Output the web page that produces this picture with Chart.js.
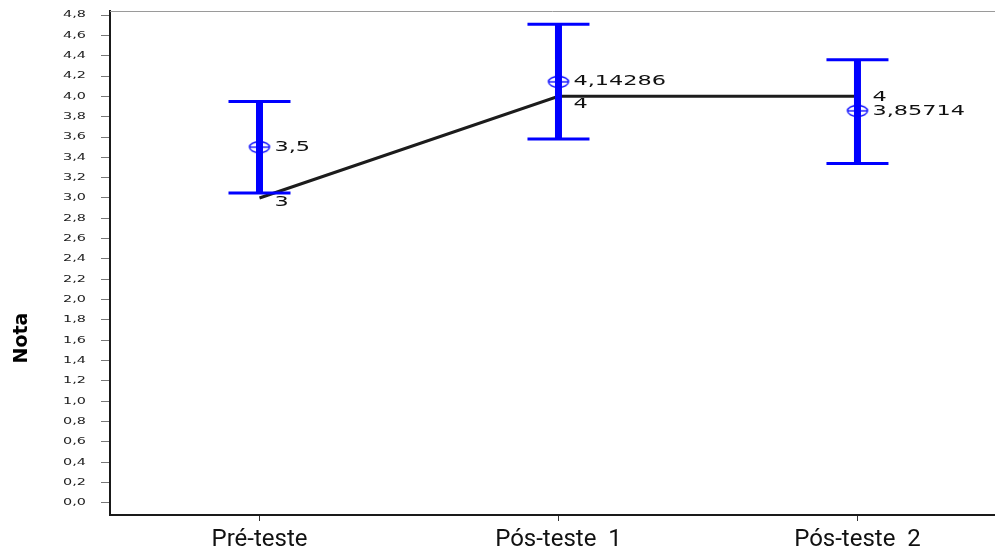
<!DOCTYPE html>
<html>
<head>
<meta charset="utf-8">
<script src="https://cdn.jsdelivr.net/npm/chart.js@4/dist/chart.umd.min.js"></script>
<style>
html, body { margin: 0; padding: 0; background: #fff; }
</style>
</head>
<body>
<canvas id="chart" width="995" height="555"></canvas>
<script>
// data
const categories = ['Pré-teste', 'Pós-teste  1', 'Pós-teste  2'];
const positions = [0, 1, 2];
const means = [3.5, 4.14286, 3.85714];
const medians = [3, 4, 4];
const ciLow = [3.05, 3.58, 3.34];
const ciHigh = [3.95, 4.71, 4.36];
const yTicks = [0, 0.2, 0.4, 0.6, 0.8, 1.0, 1.2, 1.4, 1.6, 1.8, 2.0, 2.2, 2.4,
    2.6, 2.8, 3.0, 3.2, 3.4, 3.6, 3.8, 4.0, 4.2, 4.4, 4.6, 4.8];
const yTitle = 'Nota';

const BLUE = '#0000ff';
const STRETCH = 1.6; // the source picture is stretched sideways
const medianDy = [4, 8, 1];

function fmt(v) {
    return String(v).replace('.', ',');
}

// mean marker: flat circle with a bar through it
function makeMeanMarker() {
    const c = document.createElement('canvas');
    c.width = 24;
    c.height = 14;
    const g = c.getContext('2d');
    g.strokeStyle = BLUE;
    g.lineWidth = 1.3;
    g.beginPath();
    g.ellipse(12, 7, 10, 5.5, 0, 0, Math.PI * 2);
    g.stroke();
    g.beginPath();
    g.moveTo(2, 7);
    g.lineTo(22, 7);
    g.stroke();
    return c;
}

function wideText(ctx, text, x, y, align) {
    ctx.save();
    ctx.translate(x, y);
    ctx.scale(STRETCH, 1);
    ctx.textAlign = align;
    ctx.fillText(text, 0, 0);
    ctx.restore();
}

// fixed axis sizes, no extra label padding
function fixSize(w, h) {
    return s => {
        if (w) s.width = w;
        if (h) s.height = h;
        s.paddingTop = s.paddingBottom = s.paddingLeft = s.paddingRight = 0;
    };
}

const textPlugin = {
    id: 'texts',
    afterDatasetsDraw(chart) {
        const { ctx, chartArea, scales } = chart;
        const xs = scales.x, ys = scales.y;
        ctx.save();

        // top frame line
        ctx.strokeStyle = '#9a9a9a';
        ctx.lineWidth = 1;
        ctx.beginPath();
        ctx.moveTo(chartArea.left, chartArea.top + 0.5);
        ctx.lineTo(chartArea.right, chartArea.top + 0.5);
        ctx.stroke();

        // y tick labels
        ctx.fillStyle = '#222';
        ctx.font = '9px "DejaVu Sans"';
        ctx.textBaseline = 'middle';
        yTicks.forEach(v => {
            wideText(ctx, v.toFixed(1).replace('.', ','), chartArea.left - 24, ys.getPixelForValue(v), 'right');
        });

        // value labels
        ctx.fillStyle = '#111';
        ctx.font = '14px "DejaVu Sans"';
        positions.forEach((p, i) => {
            const px = xs.getPixelForValue(p);
            wideText(ctx, fmt(means[i]), px + 15, ys.getPixelForValue(means[i]), 'left');
            wideText(ctx, fmt(medians[i]), px + 15, ys.getPixelForValue(medians[i]) + medianDy[i], 'left');
        });

        // y title
        ctx.fillStyle = '#000';
        ctx.font = 'bold 19px "DejaVu Sans"';
        ctx.textAlign = 'center';
        ctx.textBaseline = 'alphabetic';
        ctx.translate(27, 338);
        ctx.rotate(-Math.PI / 2);
        ctx.fillText(yTitle, 0, 0);
        ctx.restore();
    }
};

const ciData = [];
const capData = [];
positions.forEach((p, i) => {
    ciData.push({ x: p, y: ciLow[i] }, { x: p, y: ciHigh[i] }, { x: p, y: null });
    capData.push({ x: p, y: ciLow[i] }, { x: p, y: ciHigh[i] });
});

new Chart(document.getElementById('chart'), {
    type: 'line',
    data: {
        datasets: [
            {
                // median line
                data: positions.map((p, i) => ({ x: p, y: medians[i] })),
                borderColor: '#1c1c1c',
                borderWidth: 3,
                pointRadius: 0,
                order: 4
            },
            {
                // interval bars
                data: ciData,
                borderColor: BLUE,
                borderWidth: 7,
                borderCapStyle: 'butt',
                pointRadius: 0,
                spanGaps: false,
                order: 3
            },
            {
                // interval caps
                data: capData,
                showLine: false,
                pointStyle: 'line',
                pointRadius: 31,
                pointBorderWidth: 3,
                pointBorderColor: BLUE,
                order: 2
            },
            {
                // means
                data: positions.map((p, i) => ({ x: p, y: means[i] })),
                showLine: false,
                pointStyle: makeMeanMarker(),
                pointRadius: 8,
                order: 1
            }
        ]
    },
    options: {
        responsive: false,
        animation: false,
        layout: { autoPadding: false, padding: { top: 11, left: 0, right: 0, bottom: 0 } },
        plugins: {
            legend: { display: false },
            tooltip: { enabled: false }
        },
        scales: {
            x: {
                type: 'linear',
                min: -0.5,
                max: 2.46,
                afterBuildTicks: s => { s.ticks = positions.map(v => ({ value: v })); },
                afterFit: fixSize(0, 40),
                grid: { drawOnChartArea: false, tickLength: 6, color: '#333' },
                border: { color: '#1a1a1a', width: 2 },
                ticks: {
                    autoSkip: false,
                    maxRotation: 0,
                    padding: 5,
                    color: '#111',
                    font: { family: 'Roboto', size: 24 },
                    callback: v => categories[positions.indexOf(v)] || ''
                }
            },
            y: {
                min: -0.12,
                max: 4.84,
                afterBuildTicks: s => { s.ticks = yTicks.map(v => ({ value: v })); },
                afterFit: fixSize(110, 0),
                grid: { drawOnChartArea: false, tickLength: 9, color: '#777' },
                border: { color: '#1a1a1a', width: 2 },
                ticks: { display: false }
            }
        }
    },
    plugins: [textPlugin]
});
</script>
</body>
</html>
